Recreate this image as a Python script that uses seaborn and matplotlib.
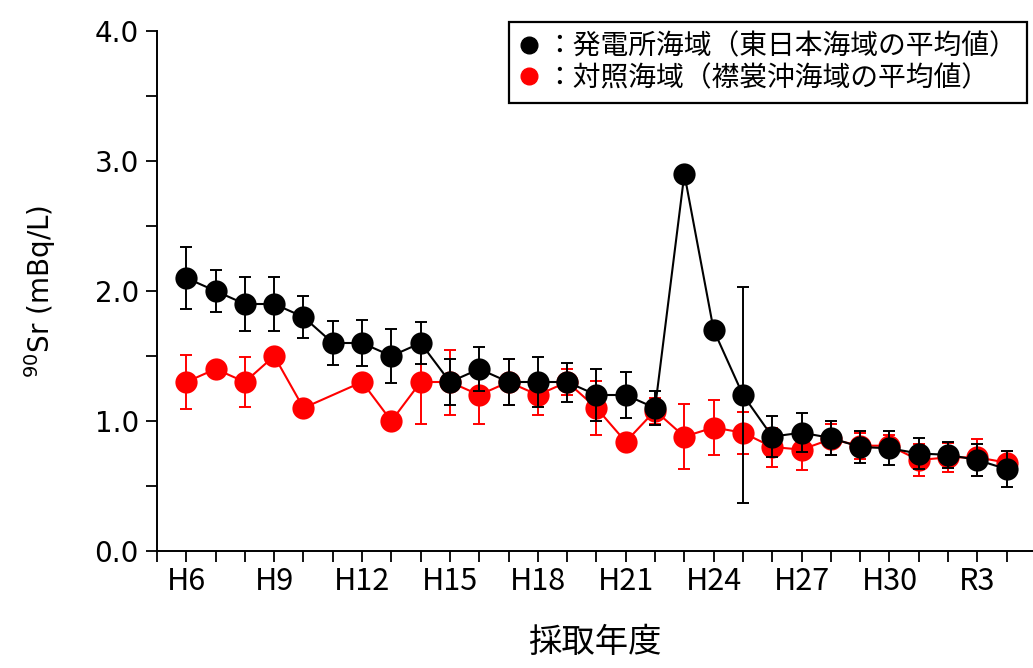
import numpy as np
import pandas as pd
import seaborn as sns
import matplotlib.pyplot as plt
from matplotlib.lines import Line2D
from matplotlib.ticker import MultipleLocator, FixedLocator

years = ['H6', 'H7', 'H8', 'H9', 'H10', 'H11', 'H12', 'H13', 'H14', 'H15',
         'H16', 'H17', 'H18', 'H19', 'H20', 'H21', 'H22', 'H23', 'H24', 'H25',
         'H26', 'H27', 'H28', 'H29', 'H30', 'R1', 'R2', 'R3', 'R4']

# 発電所海域（東日本海域の平均値）
plant_val = [2.10, 2.00, 1.90, 1.90, 1.80, 1.60, 1.60, 1.50, 1.60, 1.30,
             1.40, 1.30, 1.30, 1.30, 1.20, 1.20, 1.10, 2.90, 1.70, 1.20,
             0.88, 0.91, 0.87, 0.80, 0.79, 0.75, 0.74, 0.70, 0.63]
plant_err = [0.24, 0.16, 0.21, 0.21, 0.16, 0.17, 0.18, 0.21, 0.16, 0.18,
             0.17, 0.18, 0.19, 0.15, 0.20, 0.18, 0.13, np.nan, np.nan, 0.83,
             0.16, 0.15, 0.13, 0.12, 0.13, 0.12, 0.10, 0.12, 0.14]

# 対照海域（襟裳沖海域の平均値）
ctrl_val = [1.30, 1.40, 1.30, 1.50, 1.10, np.nan, 1.30, 1.00, 1.30, 1.30,
            1.20, 1.30, 1.20, 1.30, 1.10, 0.84, 1.08, 0.88, 0.95, 0.91,
            0.80, 0.78, 0.86, 0.81, 0.81, 0.70, 0.72, 0.72, 0.68]
ctrl_err = [0.21, np.nan, 0.19, np.nan, np.nan, np.nan, np.nan, np.nan, 0.32, 0.25,
            0.22, 0.18, 0.15, 0.10, 0.21, np.nan, 0.10, 0.25, 0.21, 0.16,
            0.15, 0.16, 0.12, 0.10, 0.08, 0.12, 0.11, 0.14, 0.09]

tick_labels = ['H6', 'H9', 'H12', 'H15', 'H18', 'H21', 'H24', 'H27', 'H30', 'R3']

sns.set_theme(style='ticks')
plt.rcParams['font.family'] = ['DejaVu Sans', 'Noto Sans CJK JP']
plt.rcParams['mathtext.fontset'] = 'dejavusans'
plt.rcParams.update({'text.color': 'black', 'axes.labelcolor': 'black',
                     'xtick.color': 'black', 'ytick.color': 'black'})
cjk = ['Noto Sans CJK JP', 'DejaVu Sans']

fig = plt.figure(figsize=(10.33, 6.68), dpi=100)
ax = fig.add_axes([157 / 1033, 117 / 668, 876 / 1033, 520 / 668])

series = [
    ('ctrl', ctrl_val, ctrl_err, 'red', 2),
    ('plant', plant_val, plant_err, 'black', 4),
]
for name, vals, errs, color, z in series:
    df = pd.DataFrame({'x': np.arange(len(years)), 'value': vals, 'err': errs})
    df = df.dropna(subset=['value'])
    sns.lineplot(data=df, x='x', y='value', color=color, marker='o', markersize=16,
                 markeredgewidth=0, linewidth=1.5, ax=ax, zorder=z, legend=False)
    de = df.dropna(subset=['err'])
    ax.errorbar(de['x'], de['value'], yerr=de['err'], fmt='none', ecolor=color,
                elinewidth=1.4, capsize=4, capthick=1.4, zorder=z + 1)

ax.set_xlim(-1, 28.9)
ax.set_ylim(0, 4.0)
ax.xaxis.set_major_locator(FixedLocator(list(range(0, 28, 3))))
ax.set_xticklabels(tick_labels)
ax.xaxis.set_minor_locator(FixedLocator(list(range(-1, 29))))
ax.set_yticks([0, 1, 2, 3, 4])
ax.set_yticklabels(['0.0', '1.0', '2.0', '3.0', '4.0'])
ax.yaxis.set_minor_locator(MultipleLocator(0.5))

ax.tick_params(axis='both', which='both', direction='out', length=8, width=1.3,
               color='black')
ax.tick_params(axis='x', which='major', labelsize=22, pad=3)
ax.tick_params(axis='y', which='major', labelsize=20, pad=5)
for lab in ax.get_xticklabels():
    lab.set_family(cjk)

sns.despine(ax=ax)
for s in ['left', 'bottom']:
    ax.spines[s].set_linewidth(1.4)
    ax.spines[s].set_color('black')

ax.set_xlabel('採取年度', fontsize=24, labelpad=20, family=cjk)
ax.set_ylabel('$^{90}$Sr (mBq/L)', fontsize=20, labelpad=26)

handles = [
    Line2D([], [], color='black', marker='o', linestyle='none', markersize=12),
    Line2D([], [], color='red', marker='o', linestyle='none', markersize=12),
]
labels = ['：発電所海域（東日本海域の平均値）', '：対照海域（襟裳沖海域の平均値）']
leg = fig.legend(handles, labels, loc='upper right', bbox_to_anchor=(1027 / 1033, 1 - 22 / 668),
                 prop={'family': cjk, 'size': 20},
                 frameon=True, fancybox=False, edgecolor='black', framealpha=1,
                 handlelength=0.7, handletextpad=0.25, borderpad=0.35, labelspacing=0.05,
                 borderaxespad=0, alignment='left')
leg.get_frame().set_linewidth(1.6)

fig.savefig('out.png', dpi=100)
